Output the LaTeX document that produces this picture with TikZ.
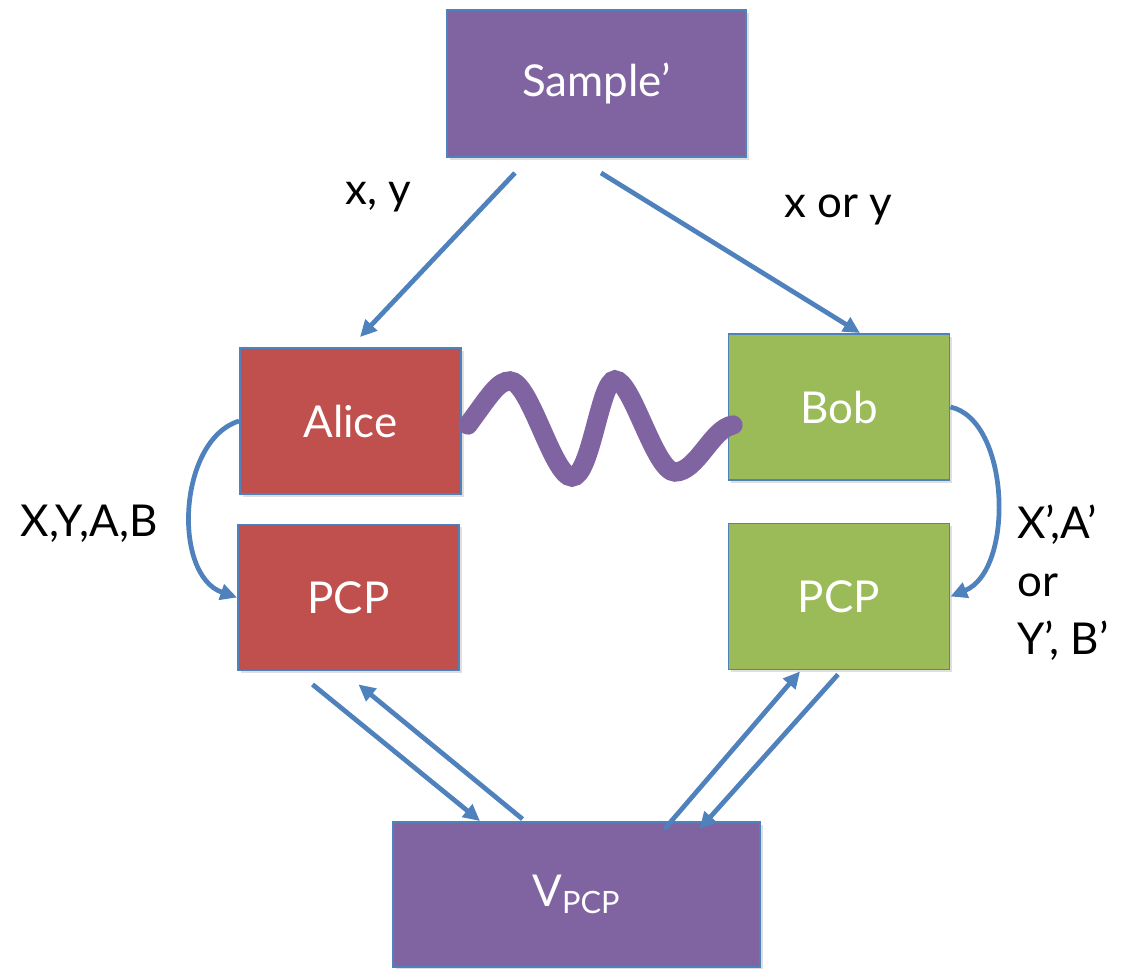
\documentclass[tikz,border=0pt]{standalone}
\usepackage{fontspec}
\setmainfont{Lato}
\usetikzlibrary{arrows.meta,calc,shadows}
\definecolor{boxpurple}{RGB}{128,100,162}
\definecolor{boxred}{RGB}{192,80,77}
\definecolor{boxgreen}{RGB}{155,187,89}
\definecolor{linkblue}{RGB}{79,129,189}

\begin{document}
\begin{tikzpicture}[x=0.02cm, y=-0.02cm,
    box/.style={draw=linkblue, line width=1.1pt, text=white, inner sep=0pt,
        minimum width=4.42cm, minimum height=2.92cm,
        font=\fontsize{25}{30}\selectfont,
        drop shadow={opacity=0.25, shadow xshift=1.5pt, shadow yshift=-1.5pt}},
    link/.style={draw=linkblue, line width=2.7pt, -{Triangle[length=9.5pt,width=9pt]}},
    wave/.style={draw=boxpurple, line width=11pt, line cap=round},
    tag/.style={font=\fontsize{25}{33}\selectfont, text=black, inner sep=0pt}]
    \useasboundingbox (0,0) rectangle (1123,969);

    % Create boxes
    \node[box, fill=boxpurple, minimum width=5.98cm, minimum height=2.94cm] (sample) at (596.5,83.5) {Sample’};
    \node[box, fill=boxred] (alice) at (350.5,421) {Alice};
    \node[box, fill=boxgreen] (bob) at (839,407) {Bob};
    \node[box, fill=boxred] (pcpl) at (348.5,597.5) {PCP};
    \node[box, fill=boxgreen] (pcpr) at (839,596.5) {PCP};
    \node[box, fill=boxpurple, minimum width=7.34cm, minimum height=2.9cm] (ver) at (576.5,894.5) {V\textsubscript{PCP}};

    % Labels
    \node[tag] (lxy) at (378,197) {x, y};
    \node[tag] (lxory) at (838,210) {x or y};
    \node[tag] (lalice) at (89,524) {X,Y,A,B};
    \node[tag, anchor=west, align=left] (lbob) at (1017,583) {X’,A’\\or\\Y’, B’};

    % Questions from the sampler
    \draw[link] ($(sample.south)+(-81.5,15)$) -- ($(alice.north)+(9.5,-10)$);
    \draw[link] ($(sample.south)+(4.5,15)$) -- ($(bob.north)+(21,0)$);

    % Shared state
    \coordinate (wend) at (733,425);
    \draw[wave] ($(alice.east)+(6,4)$) .. controls (490,395) and (498,381) .. (510,381)
        .. controls (530,381) and (553,477) .. (572,477)
        .. controls (591,477) and (600,380) .. (615,380)
        .. controls (632,380) and (655,472) .. (675,472)
        .. controls (697,472) and (712,428) .. (wend);

    % Answers into the proofs
    \draw[link] (alice.west) .. controls (178,440) and (172,575) .. (pcpl.west);
    \draw[link] (bob.east) .. controls (1010,420) and (1015,570) .. (pcpr.east);

    % Talking to the verifier
    \draw[link] ($(pcpl.south)+(-36,13)$) -- ($(ver.north)+(-96.5,0)$);
    \draw[link] ($(ver.north)+(-54,-2)$) -- ($(pcpl.south)+(10,13)$);
    \draw[link] ($(ver.north)+(88,8)$) -- ($(pcpr.south)+(-39,1)$);
    \draw[link] ($(pcpr.south)+(-1,4)$) -- ($(ver.north)+(123,8)$);
\end{tikzpicture}
\end{document}
